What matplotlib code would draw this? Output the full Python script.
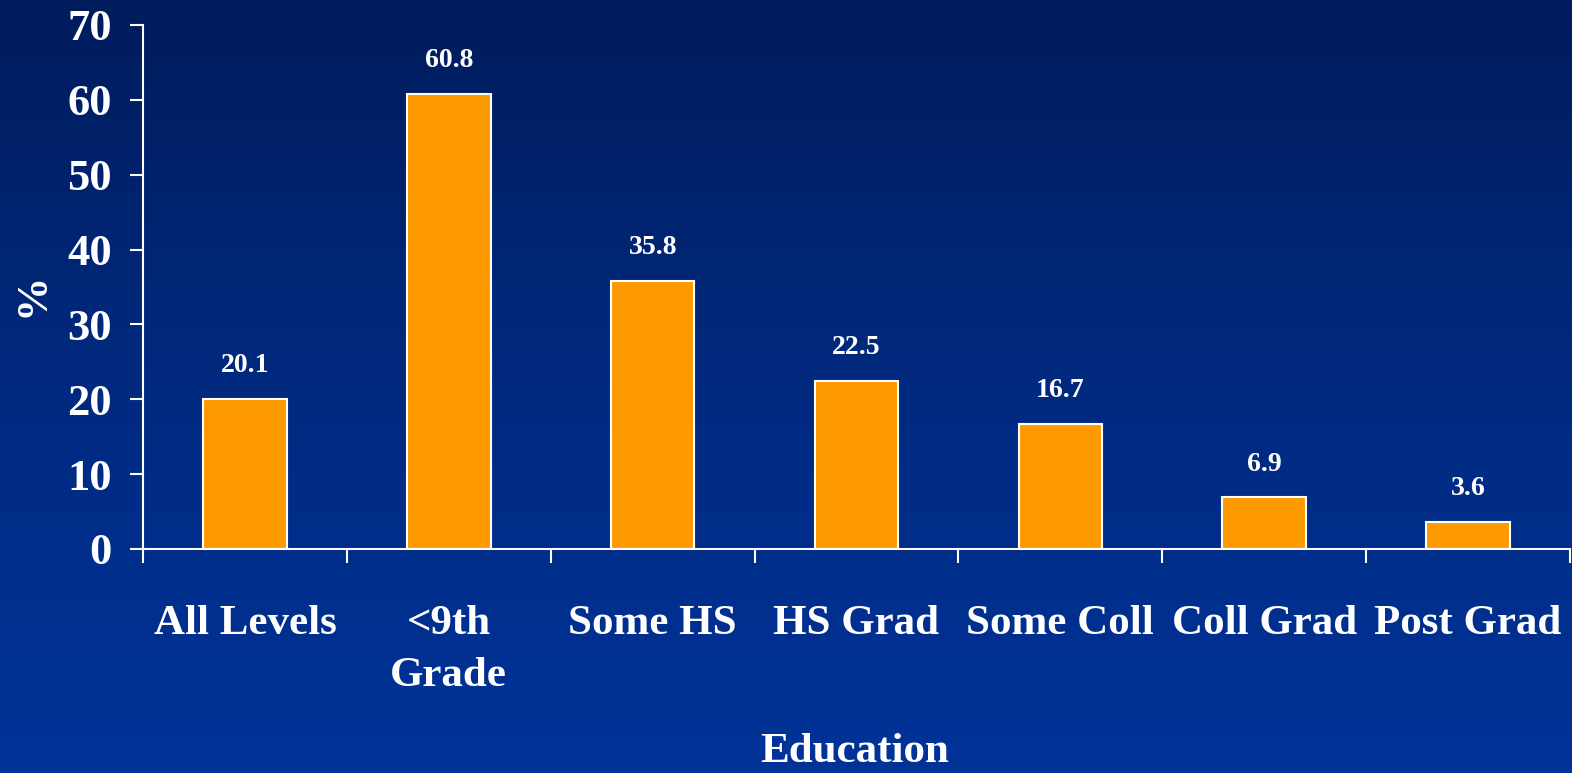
import numpy as np
import matplotlib.pyplot as plt
from matplotlib.colors import LinearSegmentedColormap

# data
categories = ['All Levels', '<9th\nGrade', 'Some HS', 'HS Grad', 'Some Coll', 'Coll Grad', 'Post Grad']
values = [20.1, 60.8, 35.8, 22.5, 16.7, 6.9, 3.6]
y_ticks = [0, 10, 20, 30, 40, 50, 60, 70]

plt.rcParams['font.family'] = ['Liberation Serif', 'DejaVu Serif']
plt.rcParams['font.weight'] = 'bold'

fig = plt.figure(figsize=(15.72, 7.73), dpi=100)

# background gradient, dark navy at top to brighter blue at bottom
bg = fig.add_axes([0, 0, 1, 1], zorder=-1)
cmap = LinearSegmentedColormap.from_list('bg', ['#001c5c', '#002a80', '#003399'])
grad = np.linspace(0, 1, 256).reshape(-1, 1)
bg.imshow(grad, aspect='auto', cmap=cmap, extent=[0, 1, 0, 1], origin='upper')
bg.axis('off')

ax = fig.add_axes([143 / 1572, 1 - 549 / 773, 1427 / 1572, 524 / 773])
ax.patch.set_alpha(0)

x = np.arange(len(categories))
ax.bar(x, values, width=0.41, color='#ff9900', edgecolor='white', linewidth=1.5, zorder=2)

for xi, v in zip(x, values):
    ax.annotate(f'{v}', (xi, v), xytext=(0, 24), textcoords='offset points',
                ha='center', va='center', color='white', fontsize=20, fontweight='bold')

ax.set_xlim(-0.5, len(categories) - 0.5)
ax.set_ylim(0, 70)
ax.set_yticks(y_ticks)
ax.set_yticklabels([str(t) for t in y_ticks])

ax.set_xticks(x)
ax.set_xticklabels(categories, linespacing=1.5)
ax.set_xticks(np.arange(len(categories) + 1) - 0.5, minor=True)

ax.tick_params(axis='y', colors='white', length=9.5, width=1.5, pad=13, labelsize=32)
ax.tick_params(axis='x', which='major', colors='white', length=0, pad=40, labelsize=31)
ax.tick_params(axis='x', which='minor', colors='white', length=10, width=1.5)

for t in ax.get_xticklabels() + ax.get_yticklabels():
    t.set_fontweight('bold')

for side in ['top', 'right']:
    ax.spines[side].set_visible(False)
for side in ['left', 'bottom']:
    ax.spines[side].set_color('white')
    ax.spines[side].set_linewidth(1.5)

fig.text(32 / 1572, 1 - 295 / 773, '%', rotation=90, ha='center', va='center',
         color='white', fontsize=32, fontweight='bold')
fig.text(855 / 1572, 1 - 752 / 773, 'Education', ha='center', va='center',
         color='white', fontsize=31, fontweight='bold')

fig.savefig('out.png', dpi=100)
